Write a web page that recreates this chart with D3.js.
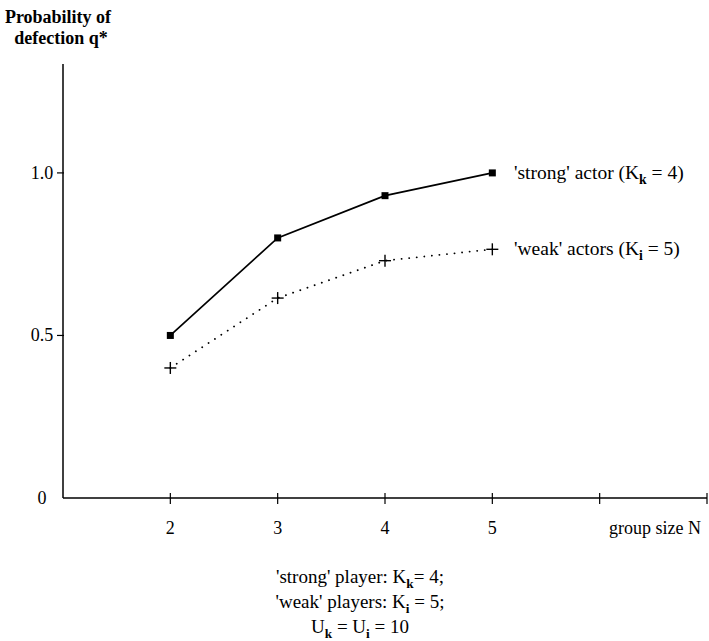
<!DOCTYPE html>
<html>
<head>
<meta charset="utf-8">
<script src="https://cdn.jsdelivr.net/npm/d3@7"></script>
<style>
  body { margin: 0; background: #fff; }
</style>
</head>
<body>
<svg id="chart" width="709" height="641"></svg>
<script>
// ---- data ----
const groupSizes = [2, 3, 4, 5];
const strongValues = [0.50, 0.80, 0.93, 1.00];
const weakValues = [0.40, 0.615, 0.73, 0.765];
const xTickValues = [2, 3, 4, 5, 6, 7];
const xTickLabels = ["2", "3", "4", "5", "", ""];
const yTickValues = [0, 0.5, 1.0];
const yTickLabels = ["0", "0.5", "1.0"];

const FONT = "Liberation Serif";

const svg = d3.select("#chart");
const x = d3.scaleLinear().domain([1, 7]).range([63, 707]);
const y = d3.scaleLinear().domain([0, 1.335]).range([498, 64]);

function txt(xp, yp, s, size, anchor) {
  return svg.append("text").attr("x", xp).attr("y", yp)
    .attr("text-anchor", anchor || "start")
    .style("font-family", FONT).style("font-size", size + "px").style("fill", "#000")
    .text(s);
}

// axes lines
svg.append("line").attr("x1", x(1)).attr("x2", x(7)).attr("y1", y(0)).attr("y2", y(0))
  .attr("stroke", "#000").attr("stroke-width", 1.5);
svg.append("line").attr("x1", x(1)).attr("x2", x(1)).attr("y1", y(0)).attr("y2", y(1.335))
  .attr("stroke", "#000").attr("stroke-width", 1.5);

// x ticks
xTickValues.forEach((v, i) => {
  svg.append("line").attr("x1", x(v)).attr("x2", x(v)).attr("y1", y(0) - 5).attr("y2", y(0) + 6)
    .attr("stroke", "#000").attr("stroke-width", 1.2);
  if (xTickLabels[i]) txt(x(v), 534, xTickLabels[i], 18, "middle");
});
txt(701, 534, "group size N", 18, "end");

// y ticks
yTickValues.forEach((v, i) => {
  if (v > 0) {
    svg.append("line").attr("x1", x(1) - 6).attr("x2", x(1) + 1).attr("y1", y(v)).attr("y2", y(v))
      .attr("stroke", "#000").attr("stroke-width", 1.2);
  }
  txt(42, y(v) + 6, yTickLabels[i], 18, "middle");
});

// y title
txt(58, 23, "Probability of", 18, "middle").style("font-weight", "bold");
txt(61, 44, "defection q*", 18, "middle").style("font-weight", "bold");

// lines
const line = d3.line().x((d, i) => x(groupSizes[i])).y(d => y(d));
svg.append("path").datum(strongValues).attr("d", line).attr("fill", "none")
  .attr("stroke", "#000").attr("stroke-width", 1.7);
svg.append("path").datum(weakValues).attr("d", line).attr("fill", "none")
  .attr("stroke", "#000").attr("stroke-width", 1.8).attr("stroke-dasharray", "0.1,7.5")
  .attr("stroke-linecap", "round");

// markers
svg.selectAll("rect.sq").data(strongValues).enter().append("rect")
  .attr("x", (d, i) => x(groupSizes[i]) - 3.5).attr("y", d => y(d) - 3.5)
  .attr("width", 7).attr("height", 7).attr("fill", "#000");
const plus = svg.selectAll("g.pl").data(weakValues).enter().append("g")
  .attr("transform", (d, i) => `translate(${x(groupSizes[i])},${y(d)})`);
plus.append("line").attr("x1", -6).attr("x2", 6).attr("y1", 0).attr("y2", 0).attr("stroke", "#000").attr("stroke-width", 1.4);
plus.append("line").attr("x1", 0).attr("x2", 0).attr("y1", -6).attr("y2", 6).attr("stroke", "#000").attr("stroke-width", 1.4);

// helper for text with subscripts
function richText(xp, yp, parts, size, anchor) {
  const t = txt(xp, yp, null, size, anchor);
  let shifted = false;
  parts.forEach(p => {
    if (typeof p === "string") {
      const ts = t.append("tspan").text(p);
      if (shifted) { ts.attr("dy", -5); shifted = false; }
    } else {
      t.append("tspan").style("font-size", (size * 0.7) + "px").style("font-weight", "bold")
        .attr("dy", 5).text(p.sub);
      shifted = true;
    }
  });
  return t;
}

// legend labels
richText(514, y(strongValues[3]) + 6, ["'strong' actor (K", {sub: "k"}, " = 4)"], 19.5);
richText(514, y(weakValues[3]) + 6, ["'weak' actors (K", {sub: "i"}, " = 5)"], 19.5);

// bottom annotation
richText(360, 583, ["'strong' player: K", {sub: "k"}, "= 4;"], 19, "middle");
richText(360, 608, ["'weak' players: K", {sub: "i"}, " = 5;"], 19, "middle");
richText(360, 633, ["U", {sub: "k"}, " = U", {sub: "i"}, " = 10"], 19, "middle");
</script>
</body>
</html>
